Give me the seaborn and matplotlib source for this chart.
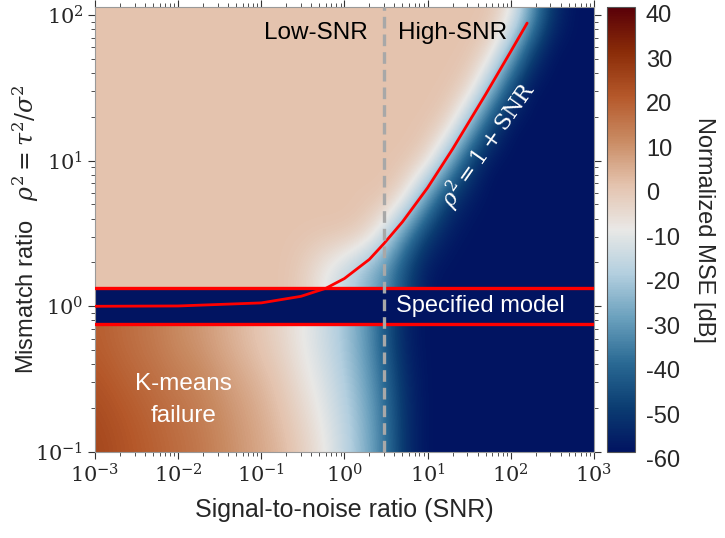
import numpy as np
import seaborn as sns
from matplotlib import pyplot as plt
from matplotlib import transforms
from matplotlib.ticker import NullFormatter

# cell centres in log10(SNR); MSE values in dB
log_snr = [-3.0, -2.75, -2.5, -2.25, -2.0, -1.75, -1.5, -1.25, -1.0, -0.75, -0.5, -0.25,
           0.0, 0.25, 0.5, 0.75, 1.0, 1.25, 1.5, 1.75, 2.0, 2.25, 2.5, 2.75, 3.0]

# below the specified band (K-means failure side), rows at log10(rho^2)
log_rho_low = [-1.0, -0.75, -0.5, -0.25]
mse_low = [
    [24, 22, 20, 18, 16, 14, 11, 8, 5, 2, -3, -9, -17, -26, -38, -54, -60, -60, -60, -60, -60, -60, -60, -60, -60],
    [23, 21, 19, 17, 15, 13, 10, 7, 4, 0, -5, -11, -18, -27, -39, -54, -60, -60, -60, -60, -60, -60, -60, -60, -60],
    [21, 19, 17, 15, 13, 11, 8, 5, 2, -2, -8, -13, -20, -29, -41, -55, -60, -60, -60, -60, -60, -60, -60, -60, -60],
    [19, 17, 15, 13, 10, 8, 5, 2, -1, -5, -10, -15, -22, -31, -44, -57, -60, -60, -60, -60, -60, -60, -60, -60, -60],
]

# specified model band
log_rho_band = [0.0]
mse_band = [[-60] * 25]

# above the band (mismatched model)
log_rho_high = [0.25, 0.5, 0.75, 1.0, 1.25, 1.5, 1.75, 2.0]
mse_high = [
    [0, 0, 0, 0, 0, 0, 0, 0, 0, 0, -3, -10, -17, -25, -34, -48, -59, -60, -60, -60, -60, -60, -60, -60, -60],
    [0, 0, 0, 0, 0, 0, 0, 0, 0, 0, 0, 0, 0, -3, -15, -35, -50, -58, -60, -60, -60, -60, -60, -60, -60],
    [0, 0, 0, 0, 0, 0, 0, 0, 0, 0, 0, 0, 0, 0, 0, -9, -31, -50, -58, -60, -60, -60, -60, -60, -60],
    [0, 0, 0, 0, 0, 0, 0, 0, 0, 0, 0, 0, 0, 0, 0, 0, -5, -25, -48, -60, -60, -60, -60, -60, -60],
    [0, 0, 0, 0, 0, 0, 0, 0, 0, 0, 0, 0, 0, 0, 0, 0, 0, -4, -23, -46, -60, -60, -60, -60, -60],
    [0, 0, 0, 0, 0, 0, 0, 0, 0, 0, 0, 0, 0, 0, 0, 0, 0, 0, -4, -23, -46, -60, -60, -60, -60],
    [0, 0, 0, 0, 0, 0, 0, 0, 0, 0, 0, 0, 0, 0, 0, 0, 0, 0, 0, -5, -25, -48, -60, -60, -60],
    [0, 0, 0, 0, 0, 0, 0, 0, 0, 0, 0, 0, 0, 0, 0, 0, 0, 0, 0, 0, -8, -30, -52, -60, -60],
]

# rho^2 = 1 + SNR curve
curve_snr = [1e-3, 1e-2, 0.1, 0.3, 0.6, 1.0, 2.0, 3.0, 5.0, 10.0, 20.0, 50.0, 100.0, 158.0]
curve_rho = [1.0, 1.005, 1.055, 1.17, 1.33, 1.55, 2.1, 2.7, 3.8, 6.5, 12.0, 28.5, 56.0, 88.0]

band_edges = [4 / 3, 3 / 4]
snr_split = 3.0

cbar_ticks = [40, 30, 20, 10, 0, -10, -20, -30, -40, -50, -60]
x_ticks = [1e-3, 1e-2, 1e-1, 1e0, 1e1, 1e2, 1e3]
x_ticklabels = [r'$10^{-3}$', r'$10^{-2}$', r'$10^{-1}$', r'$10^{0}$', r'$10^{1}$', r'$10^{2}$', r'$10^{3}$']
y_ticks = [1e-1, 1e0, 1e1, 1e2]
y_ticklabels = [r'$10^{-1}$', r'$10^{0}$', r'$10^{1}$', r'$10^{2}$']

vik_colors = ['#011461', '#0b3d72', '#2a6a94', '#6aa0bd', '#b3cfdf', '#e9e8e6',
              '#e4c3ae', '#c98b63', '#b5582a', '#8a2c08', '#590008']

sns.set_style('ticks')
plt.rcParams['font.family'] = ['Liberation Sans', 'DejaVu Sans']
plt.rcParams['mathtext.fontset'] = 'dejavuserif'
plt.rcParams['axes.unicode_minus'] = False

cmap = sns.blend_palette(vik_colors, as_cmap=True)


def extent_of(rows, step=0.25):
    """Cell edges for an image whose cell centres are log_snr x rows"""
    return [log_snr[0] - 0.125, log_snr[-1] + 0.125, rows[0] - step / 2, rows[-1] + step / 2]


rect = [0.131, 0.160, 0.688, 0.827]
fig = plt.figure(figsize=(7.25, 5.38), dpi=100)

# field drawn in log10 coordinates on a hidden linear axes
ax_img = fig.add_axes(rect)
img_kw = dict(cmap=cmap, vmin=-60, vmax=40, origin='lower', aspect='auto',
              interpolation='bicubic', interpolation_stage='data')
ax_img.imshow(np.array(mse_low, float), extent=extent_of(log_rho_low), **img_kw)
ax_img.imshow(np.array(mse_band, float), extent=extent_of(log_rho_band), **img_kw)
im = ax_img.imshow(np.array(mse_high, float), extent=extent_of(log_rho_high), **img_kw)
ax_img.set_xlim(-3, 3)
ax_img.set_ylim(-1, 2.055)
ax_img.set_axis_off()

ax = fig.add_axes(rect, facecolor='none')
ax.set_xscale('log')
ax.set_yscale('log')

for edge in band_edges:
    ax.axhline(edge, color='red', lw=2.4, zorder=3)
sns.lineplot(x=curve_snr, y=curve_rho, ax=ax, color='red', lw=2.0, zorder=4)
ax.axvline(snr_split, color='#a8a8a8', lw=2.4, ls=(0, (3.5, 1.8)), zorder=5)

ax.set_xlim(1e-3, 1e3)
ax.set_ylim(1e-1, 10 ** 2.055)

ax.set_xticks(x_ticks)
ax.set_xticklabels(x_ticklabels, fontsize=15)
ax.set_yticks(y_ticks)
ax.set_yticklabels(y_ticklabels, fontsize=15)
ax.xaxis.set_minor_formatter(NullFormatter())
ax.yaxis.set_minor_formatter(NullFormatter())
ax.tick_params(which='both', direction='out', top=True, right=True, color='#333333')
ax.tick_params(which='major', length=5, width=0.8)
ax.tick_params(which='minor', length=3, width=0.6)
for sp in ax.spines.values():
    sp.set_color('#999999')
    sp.set_linewidth(0.8)

ax.set_xlabel('Signal-to-noise ratio (SNR)', fontsize=18, labelpad=8)
ax.set_ylabel('Mismatch ratio   $\\rho^2 = \\tau^2/\\sigma^2$', fontsize=17, labelpad=-4.5)

ax.text(0.45, 75, 'Low-SNR', fontsize=17.5, ha='center', va='center', color='black')
ax.text(20, 75, 'High-SNR', fontsize=17.5, ha='center', va='center', color='black')
ax.text(43, 1.0, 'Specified model', fontsize=17, ha='center', va='center', color='white')
ax.text(0.0116, 0.227, 'K-means\nfailure', fontsize=17.5, ha='center', va='center',
        color='white', linespacing=1.6)
ax.text(54, 12.8, r'$\rho^2 = 1 + \mathrm{SNR}$', fontsize=16, ha='center', va='center',
        color='white', rotation=55)

cb = fig.colorbar(im, cax=fig.add_axes([0.837, 0.160, 0.0386, 0.827]), ticks=cbar_ticks)
cb.ax.tick_params(length=0, labelsize=17, pad=8)
shift_down = transforms.ScaledTranslation(0, -5 / 72, fig.dpi_scale_trans)
for lab in cb.ax.get_yticklabels():
    lab.set_transform(lab.get_transform() + shift_down)
cb.outline.set_edgecolor('#555555')
cb.outline.set_linewidth(0.8)
cb.set_label('Normalized MSE [dB]', fontsize=17, rotation=270, labelpad=25)

fig.savefig('out.png', dpi=100)
